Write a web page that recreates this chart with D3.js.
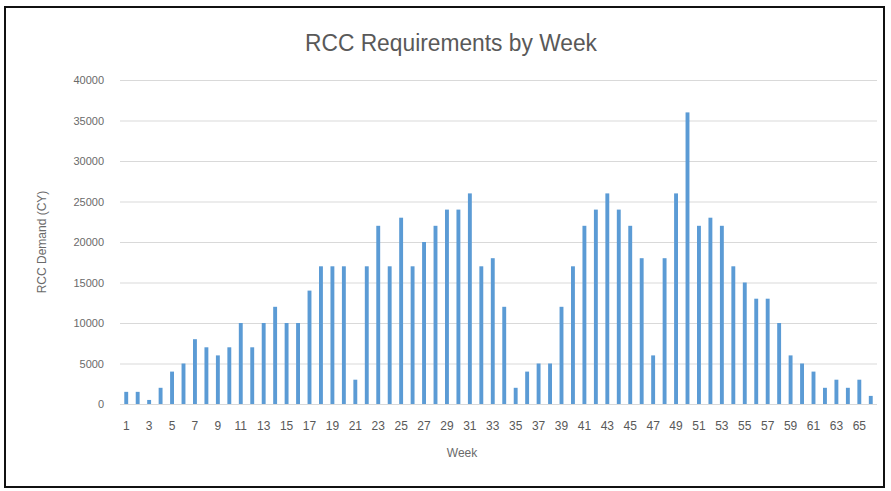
<!DOCTYPE html>
<html><head><meta charset="utf-8">
<script src="https://cdn.jsdelivr.net/npm/d3@7"></script>
<style>body{margin:0;background:#fff;}svg{display:block;}</style>
</head><body>
<script>
const weeks = d3.range(1, 67);
const demand = [1500,1500,500,2000,4000,5000,8000,7000,6000,7000,
  10000,7000,10000,12000,10000,10000,14000,17000,17000,17000,
  3000,17000,22000,17000,23000,17000,20000,22000,24000,24000,
  26000,17000,18000,12000,2000,4000,5000,5000,12000,17000,
  22000,24000,26000,24000,22000,18000,6000,18000,26000,36000,
  22000,23000,22000,17000,15000,13000,13000,10000,6000,5000,
  4000,2000,3000,2000,3000,1000];
const yTicks = [0,5000,10000,15000,20000,25000,30000,35000,40000];
const titleText = "RCC Requirements by Week";
const xTitle = "Week";
const yTitle = "RCC Demand (CY)";

const W = 891, H = 491;
const font = "'Liberation Sans Narrow','Arial Narrow','Liberation Sans',sans-serif";
const svg = d3.select("body").append("svg").attr("width", W).attr("height", H);
svg.append("rect").attr("x",0).attr("y",0).attr("width",W).attr("height",H).attr("fill","#fff");
svg.append("rect").attr("x",5).attr("y",7).attr("width",879).attr("height",480)
  .attr("fill","#fff").attr("stroke","#111").attr("stroke-width",2);

const x = d3.scaleBand().domain(weeks).range([120.5, 876.5]).paddingInner(0.66).paddingOuter(0.33);
const y = d3.scaleLinear().domain([0, 40000]).range([404, 80]);

// gridlines
svg.append("g").selectAll("line").data(yTicks.filter(d=>d>0)).join("line")
  .attr("x1", 120).attr("x2", 877).attr("y1", d=>y(d)+0.5).attr("y2", d=>y(d)+0.5)
  .attr("stroke", "#d9d9d9").attr("stroke-width", 1);

// y axis labels
const yAxis = d3.axisLeft(y).tickValues(yTicks).tickSize(0).tickPadding(0).tickFormat(d3.format("d"));
const gy = svg.append("g").attr("transform","translate(104,0)").call(yAxis);
gy.select(".domain").remove();
gy.selectAll("text").attr("fill","#6a6a6a").style("font-family",font).style("font-size","11px");

// bars
svg.append("g").selectAll("rect").data(demand).join("rect")
  .attr("x", (d,i)=>x(weeks[i])).attr("width", x.bandwidth())
  .attr("y", d=>y(d)).attr("height", d=>y(0)-y(d)).attr("fill", "#5B9BD5");

// x axis
svg.append("line").attr("x1",120).attr("x2",877).attr("y1",y(0)+0.5).attr("y2",y(0)+0.5)
  .attr("stroke","#d9d9d9");
const xAxis = d3.axisBottom(x).tickValues(weeks.filter(w=>w%2===1)).tickSize(0).tickPadding(0);
const gx = svg.append("g").attr("transform",`translate(0,${y(0)+17})`).call(xAxis);
gx.select(".domain").remove();
gx.selectAll("text").attr("fill","#595959").style("font-family",font).style("font-size","12px");

// titles
svg.append("text").attr("x",451).attr("y",51).attr("text-anchor","middle")
  .attr("textLength",292).attr("lengthAdjust","spacingAndGlyphs")
  .attr("fill","#595959").style("font-family",font).style("font-size","23px").text(titleText);
svg.append("text").attr("x",462).attr("y",457).attr("text-anchor","middle")
  .attr("fill","#6a6a6a").style("font-family",font).style("font-size","12px").text(xTitle);
svg.append("text").attr("transform","translate(46,242) rotate(-90)").attr("text-anchor","middle")
  .attr("fill","#6a6a6a").style("font-family",font).style("font-size","12px").text(yTitle);
</script>
</body></html>
